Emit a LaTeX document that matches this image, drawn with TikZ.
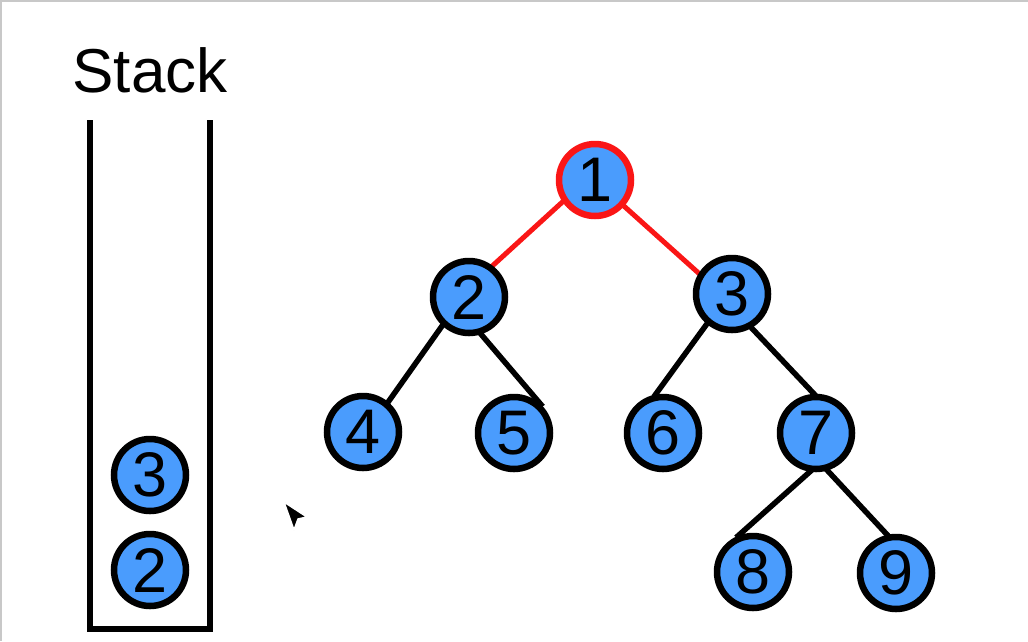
\documentclass[tikz,border=0pt]{standalone}
\usepackage{fontspec}
\setmainfont{Liberation Sans}
\usetikzlibrary{backgrounds}

\definecolor{nodeblue}{RGB}{74,156,253}
\definecolor{pathred}{RGB}{250,22,22}
\definecolor{framegray}{RGB}{200,200,200}

\tikzset{
  vertex/.style={circle, draw=black, fill=nodeblue, line width=6.5pt,
    minimum size=72pt, inner sep=0pt, font=\fontsize{63}{63}\selectfont},
  visited/.style={vertex, draw=pathred},
  treeedge/.style={line width=5.5pt, black, shorten <=-3pt, shorten >=-3pt},
  rededge/.style={treeedge, pathred, line width=5pt}
}

\begin{document}
\begin{tikzpicture}[x=1pt, y=-1pt]
\useasboundingbox (0,0) rectangle (1028,641);
\draw[framegray, line width=1.5pt] (0.75,641) -- (0.75,0.75) -- (1028,0.75);
% stack
\node[font=\fontsize{62}{62}\selectfont] (stacklabel) at (150,70) {Stack};
\draw[line width=6.5pt, line join=miter] (90,120) -- (90,629) -- (210,629) -- (210,120);
\node[vertex] (s3) at (150,475) {3};
\node[vertex] (s2) at (150,570) {2};
% tree
\node[visited] (n1) at (595,180) {1};
\node[vertex] (n2) at (469,297) {2};
\node[vertex] (n3) at (732,294) {3};
\node[vertex] (n4) at (363,432) {4};
\node[vertex] (n5) at (514,433) {5};
\node[vertex] (n6) at (663,433) {6};
\node[vertex] (n7) at (816,433) {7};
\node[vertex] (n8) at (753,572) {8};
\node[vertex] (n9) at (896,573) {9};
\begin{scope}[on background layer]
\draw[rededge] (n1.214) -- (n2.53);
\draw[rededge] (n1.-42) -- (n3.148);
\draw[treeedge] (n2.227) -- (n4.50);
\draw[treeedge] (n2.-72) -- (n5.47);
\draw[treeedge] (n3.230) -- (n6.101);
\draw[treeedge] (n3.-60) -- (n7.93);
\draw[treeedge] (n7.-99) -- (n8.112);
\draw[treeedge] (n7.-73) -- (n9.103);
\end{scope}
% pointer
\filldraw[fill=black, draw=white, line width=1.5pt, line join=round]
  (284,502) -- (307,517) -- (298,519) -- (294,530) -- cycle;
\end{tikzpicture}
\end{document}
